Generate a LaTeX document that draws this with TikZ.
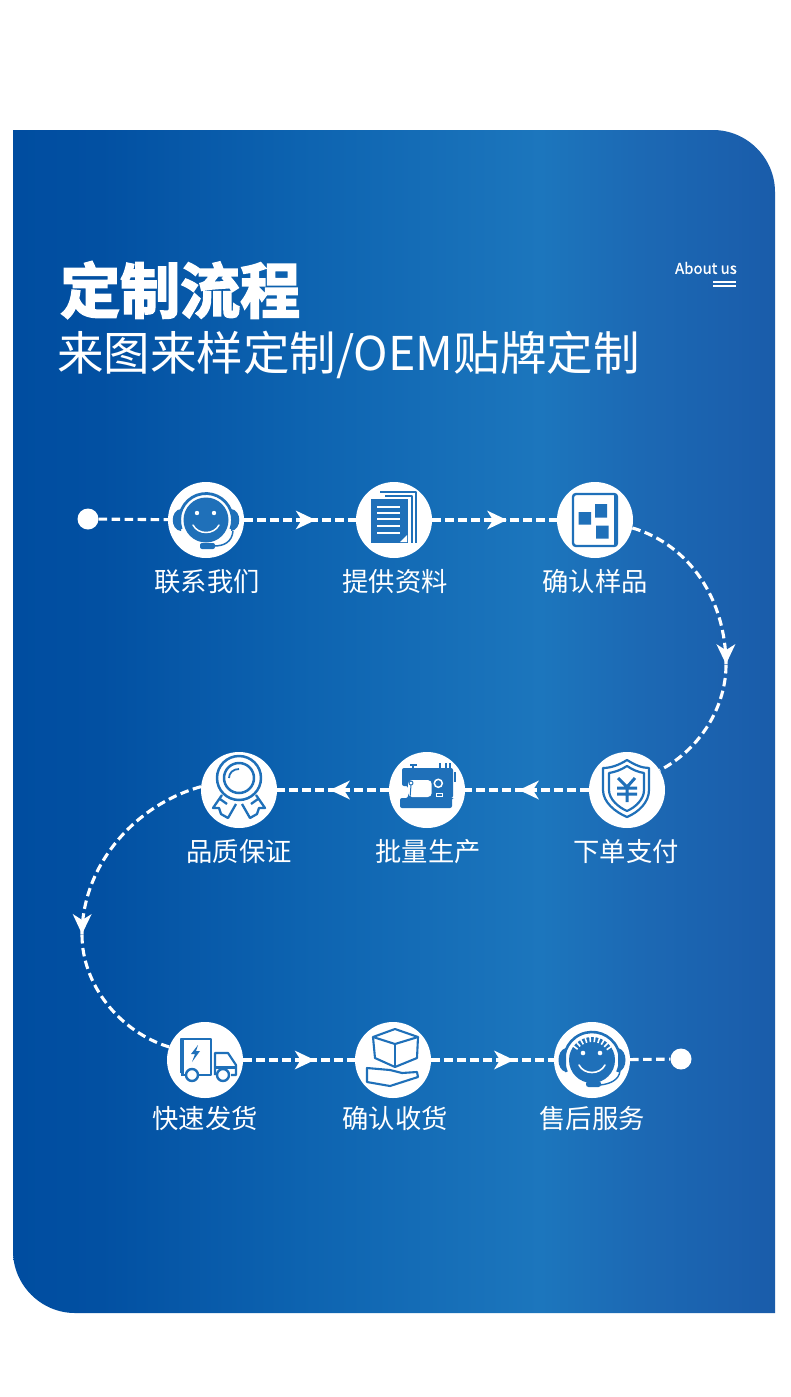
\documentclass[tikz,border=0pt]{standalone}
\usepackage{fontspec}
\usetikzlibrary{decorations.markings}
\newfontfamily\cjk{Noto Sans CJK SC}
\newfontfamily\cjkbold[FakeBold=3,UprightFont={* Bold}]{Noto Sans CJK SC}
\newfontfamily\aboutfont[FakeBold=0.9]{Noto Sans CJK SC}
\definecolor{iconblue}{HTML}{1F70B9}
\definecolor{g0}{HTML}{004DA0}
\definecolor{g1}{HTML}{0250A2}
\definecolor{g2}{HTML}{0D63B0}
\definecolor{g3}{HTML}{1C76BD}
\definecolor{g4}{HTML}{1C69B4}
\definecolor{g5}{HTML}{1A5CAA}
\pgfdeclarehorizontalshading{panelgrad}{100bp}{color(0bp)=(g0);color(25bp)=(g0);color(30.7bp)=(g1);color(43.8bp)=(g2);color(59.6bp)=(g3);color(66.1bp)=(g4);color(75bp)=(g5);color(100bp)=(g5)}
\tikzset{
  x=1pt,y=-1pt,
  stopc/.style={circle,fill=white,minimum size=76pt,inner sep=0pt},
  enddot/.style={circle,fill=white,minimum size=21pt,inner sep=0pt},
  steplabel/.style={text=white,font=\cjk\fontsize{26.3pt}{28pt}\selectfont,inner sep=0pt,anchor=center},
  flow/.style={draw=white,line width=3.1pt,dash pattern=on 8.5pt off 4.5pt},
  headat/.style={postaction={decorate},decoration={markings,mark=at position #1 with {\fill[white,solid] (0pt,0pt) -- (-20pt,9.5pt) -- (-14pt,0pt) -- (-20pt,-9.5pt) -- cycle;}}},
  il/.style={draw=iconblue,line width=2.1pt,line join=round},
  ifl/.style={fill=iconblue},
}
\begin{document}
\begin{tikzpicture}
\useasboundingbox (0,0) rectangle (790,1397);
\fill[white] (0,0) rectangle (790,1397);
\shade[shading=panelgrad] (13,130) -- (713,130) .. controls (747,130) and (775,158) .. (775,192) -- (775,1313) -- (75,1313) .. controls (41,1313) and (13,1285) .. (13,1251) -- cycle;

% titles
\node (title) [anchor=west,inner sep=0pt,text=white,font=\cjkbold\fontsize{60pt}{64pt}\selectfont] at (60,290) {定制流程};
\node (sub) [anchor=west,inner sep=0pt,text=white,font=\cjk\fontsize{46.5pt}{50pt}\selectfont] at (57,355) {来图来样定制/OEM贴牌定制};
\node (about) [anchor=east,inner sep=0pt,text=white,font=\aboutfont\fontsize{15pt}{17pt}\selectfont] at (737,268) {About us};
\draw[white,line width=1.5pt] (713,282) -- (736,282) (713,286) -- (736,286);

% stops
\node[enddot] (d1) at (88,519) {};
\node[stopc] (c1) at (206,520) {};
\node[stopc] (c2) at (394,520) {};
\node[stopc] (c3) at (595,520) {};
\node[stopc] (c4) at (627,790) {};
\node[stopc] (c5) at (427,790) {};
\node[stopc] (c6) at (239,790) {};
\node[stopc] (c7) at (205,1060) {};
\node[stopc] (c8) at (393,1060) {};
\node[stopc] (c9) at (592,1060) {};
\node[enddot] (d2) at (681,1059) {};
\coordinate (k1) at (726,665);
\coordinate (k2) at (82,935);

% labels
\node[steplabel] (l1) at (207,582) {联系我们};
\node[steplabel] (l2) at (395,582) {提供资料};
\node[steplabel] (l3) at (595,581) {确认样品};
\node[steplabel] (l4) at (626,852) {下单支付};
\node[steplabel] (l5) at (428,852) {批量生产};
\node[steplabel] (l6) at (239,852) {品质保证};
\node[steplabel] (l7) at (205,1118) {快速发货};
\node[steplabel] (l8) at (395,1118) {确认收货};
\node[steplabel] (l9) at (592,1118) {售后服务};

% connectors
\draw[flow] (d1) -- (c1);
\draw[flow,headat=.64] (c1) -- (c2);
\draw[flow,headat=.6] (c2) -- (c3);
\draw[flow,headat=.995] (c3.-12) .. controls (690,545) and (726,600) .. (k1);
\draw[flow] (k1) .. controls (726,705) and (702,748) .. (c4.31);
\draw[flow,headat=.565] (c4) -- (c5);
\draw[flow,headat=.527] (c5) -- (c6);
\draw[flow,headat=.995] (c6.175) .. controls (135,805) and (82,865) .. (k2);
\draw[flow] (k2) .. controls (82,985) and (120,1032) .. (c7.160);
\draw[flow,headat=.64] (c7) -- (c8);
\draw[flow,headat=.675] (c8) -- (c9);
\draw[flow] (c9) -- (d2);

% icon 1: headset
\begin{scope}[shift={(c1.center)}]
  \fill[iconblue] (0,0) circle (22.5pt);
  \draw[il,line width=2.8pt] (200:26.5pt) arc[start angle=200,end angle=-20,radius=26.5pt];
  \fill[iconblue] (-25,-11) .. controls (-36,-10) and (-36,10) .. (-25,11) -- cycle;
  \fill[iconblue] (25,-11) .. controls (36,-10) and (36,10) .. (25,11) -- cycle;
  \fill[white] (-9,-7) circle (2.2pt) (8,-7) circle (2.2pt);
  \draw[white,line width=1.5pt,line cap=round] (-13,5) .. controls (-8,15) and (8,15) .. (13,5);
  \draw[il,line width=1.5pt] (27,11) .. controls (26,22) and (18,26) .. (8,26);
  \fill[iconblue,rounded corners=2pt] (-6,23) rectangle (9,29);
\end{scope}

% icon 2: documents
\begin{scope}[shift={(c2.center)}]
  \draw[il,line width=1.6pt] (-14,-28) -- (22,-28) -- (22,23);
  \draw[il,line width=1.6pt] (-9,-24) -- (18,-24) -- (18,23);
  \fill[iconblue] (-23,-21) rectangle (14,23);
  \draw[white,line width=1.4pt] (-17,-13) -- (6,-13) (-17,-7) -- (6,-7) (-17,-1) -- (6,-1) (-17,6) -- (6,6) (-17,13) -- (6,13);
  \fill[white] (13,15) -- (13,22) -- (6,22) -- cycle;
\end{scope}

% icon 3: samples
\begin{scope}[shift={(c3.center)}]
  \draw[il,line width=2.4pt,rounded corners=3pt] (-22,-26) rectangle (22,26);
  \draw[il,line width=1.5pt] (20,-25) -- (20,25);
  \fill[iconblue] (-16.5,-8) rectangle (-4,4.5) (0,-16) rectangle (12,-2.5) (1,5.5) rectangle (13.5,18.5);
\end{scope}

% icon 4: shield
\begin{scope}[shift={(c4.center)}]
  \draw[il,line width=2.2pt] (0,-30) .. controls (-8,-25) and (-16,-22) .. (-24,-22) -- (-24,0) .. controls (-24,12) and (-12,22) .. (0,27) .. controls (12,22) and (22,12) .. (22,0) -- (22,-22) .. controls (15,-22) and (8,-25) .. (0,-30) -- cycle;
  \draw[il,line width=2.2pt] (0,-24) .. controls (-6,-20) and (-12,-18) .. (-18,-17) -- (-18,0) .. controls (-18,9) and (-9,17) .. (0,21) .. controls (9,17) and (17,9) .. (17,0) -- (17,-17) .. controls (11,-18) and (6,-20) .. (0,-24) -- cycle;
  \draw[il,line width=3pt,line join=miter] (-9,-12) -- (0,-3) -- (8,-12) (-10,-2) -- (10,-2) (-10,4) -- (10,4) (0,-3) -- (0,12);
\end{scope}

% icon 5: sewing machine
\begin{scope}[shift={(c5.center)}]
  \fill[iconblue,rounded corners=2pt] (-25,-22) -- (26,-22) -- (26,8) -- (25,8) -- (25,18) -- (-27,18) -- (-27,8) -- (-19,8) -- (-19,-4) -- (-25,-4) -- cycle;
  \fill[white,rounded corners=4pt] (-19,-10) -- (4.7,-10) -- (4.7,7) -- (-19,7) -- cycle;
  \draw[white,line width=1.5pt] (11.3,-6.7) circle (4pt);
  \draw[white,line width=1pt] (9,3) rectangle (15,6);
  \draw[il,line width=1pt] (-16,-7) circle (2pt) (-16,-5) -- (-17,8);
  \draw[il,line width=1.3pt] (-17,-25) -- (-10,-25) (-14,-25) -- (-14,-22) (13,-27) -- (13,-22) (19,-27) -- (19,-22) (23,-27) -- (23,-22);
  \fill[iconblue] (26.5,-18) rectangle (29,-8);
\end{scope}

% icon 6: medal
\begin{scope}[shift={(c6.center)}]
  \draw[il,line width=2.3pt] (-17,5) -- (-26,18) -- (-20,18) -- (-18,24) -- (-11,28) -- (-3,14);
  \draw[il,line width=2.3pt] (-19,9) -- (-12,14);
  \draw[il,line width=2.3pt] (17,5) -- (26,18) -- (20,18) -- (18,24) -- (11,28) -- (3,14);
  \draw[il,line width=2.3pt] (19,9) -- (12,14);
  \fill[white] (0,-12) circle (22pt);
  \draw[il,line width=2.5pt] (0,-12) circle (22pt);
  \draw[il,line width=2.5pt] (0,-12) circle (15pt);
  \draw[il,line width=1.8pt] (-10,-12) .. controls (-10,-17) and (-6,-21) .. (0,-21);
\end{scope}

% icon 7: truck
\begin{scope}[shift={(c7.center)}]
  \draw[il] (-24,13) -- (-24,-21) -- (6,-21) -- (6,15) -- (-6,15) (-20,15) -- (-24,15);
  \fill[iconblue] (-24,-21) rectangle (-21,15);
  \draw[il] (10,15) -- (10,-7) -- (23,-7) -- (31,5) -- (31,15) -- (26,15);
  \fill[iconblue] (10,6) rectangle (31,9);
  \draw[il,line width=2.4pt] (-13,15) circle (6pt);
  \draw[il,line width=2.4pt] (18,15) circle (6pt);
  \fill[iconblue] (-7,-15) -- (-14,-6) -- (-10,-6) -- (-13,2) -- (-5,-9) -- (-9,-9) -- cycle;
\end{scope}

% icon 8: box in hand
\begin{scope}[shift={(c8.center)}]
  \draw[il] (-20,-23) -- (2,-31) -- (25,-23) -- (2,-16) -- cycle;
  \draw[il] (-20,-23) -- (-18,-2) -- (2,7) -- (24,-2) -- (25,-23);
  \draw[il] (2,-16) -- (2,7);
  \draw[il] (-26,8) -- (-3,10) -- (9,13) -- (24,12) -- (25,17) -- (-3,26) -- (-26,22) -- cycle;
\end{scope}

% icon 9: agent
\begin{scope}[shift={(c9.center)}]
  \fill[iconblue] (0,0) circle (23pt);
  \draw[il,line width=2.6pt] (205:28pt) arc[start angle=205,end angle=-25,radius=28pt];
  \fill[iconblue] (-26,-12) .. controls (-36,-10) and (-36,10) .. (-26,12) -- cycle;
  \fill[iconblue] (26,-12) .. controls (36,-10) and (36,10) .. (26,12) -- cycle;
  \foreach \a in {35,47,...,145} {\draw[white,line width=1.6pt] (\a:23.5pt) -- (\a:18pt);}
  \fill[white] (-9,-7) circle (2.3pt) (8,-7) circle (2.3pt);
  \draw[white,line width=1.6pt,line cap=round] (-13,5) .. controls (-8,15) and (8,15) .. (13,5);
  \draw[il,line width=1.4pt] (28,11) .. controls (27,20) and (18,24) .. (8,25);
  \fill[iconblue,rounded corners=2.5pt] (-6,21) rectangle (9,27);
\end{scope}
\end{tikzpicture}
\end{document}
